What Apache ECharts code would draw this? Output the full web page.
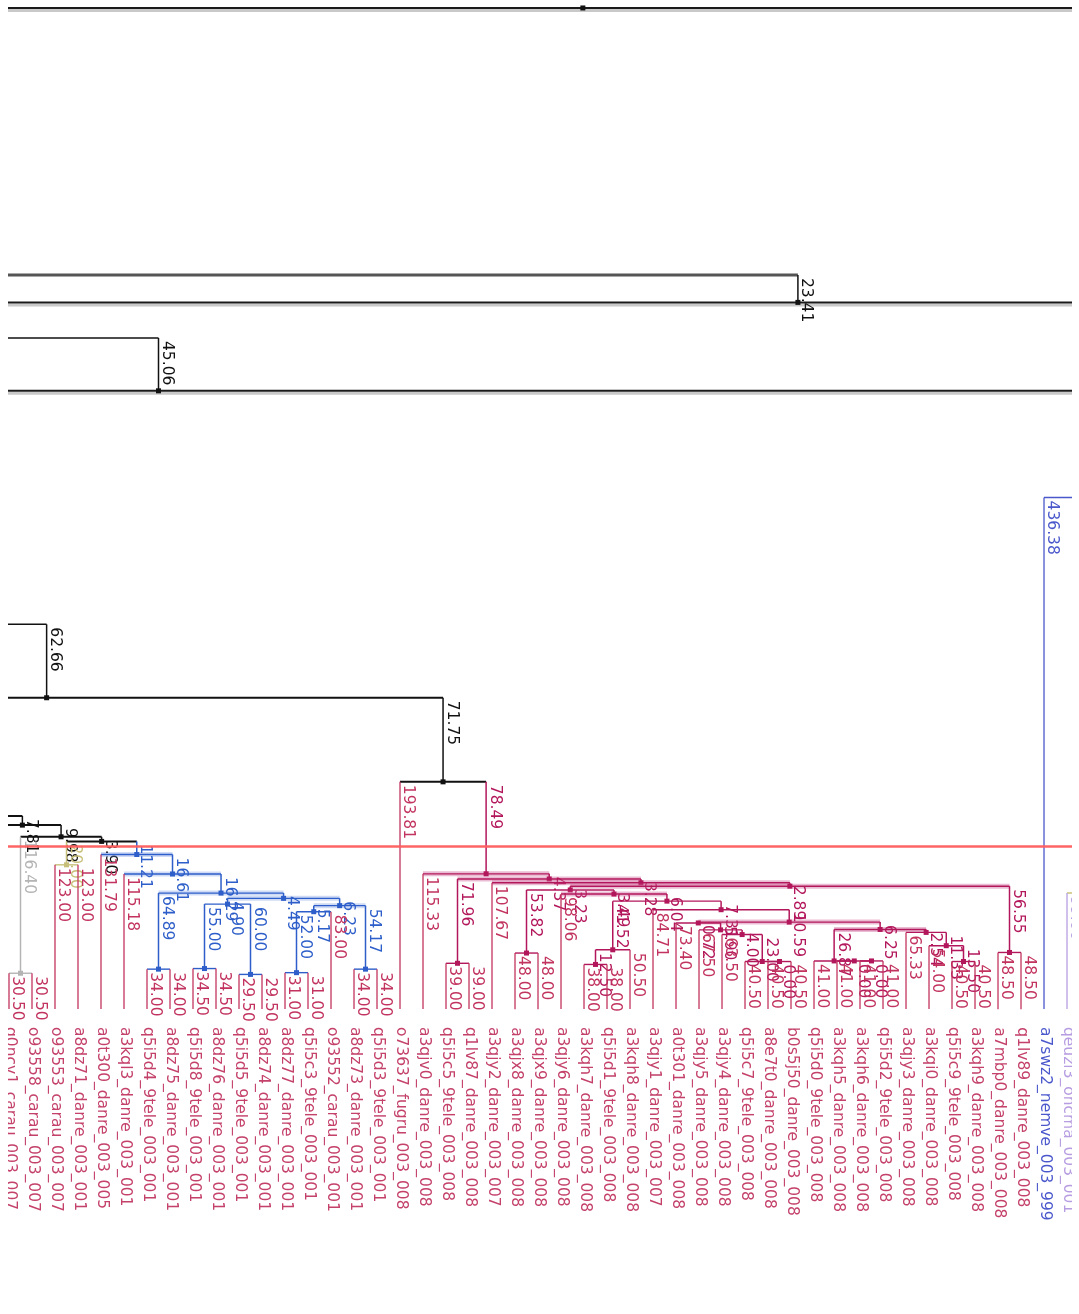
<!DOCTYPE html>
<html>
<head>
<meta charset="utf-8">
<script src="https://cdn.jsdelivr.net/npm/echarts@6/dist/echarts.min.js"></script>
<style>
  html, body { margin: 0; padding: 0; background: #ffffff; }
  #chart { width: 1079px; height: 1314px; }
</style>
</head>
<body>
<div id="chart"></div>
<script>
// ---------------- tree data ----------------
// Leaves in display order (slot = index), their parent node, terminal branch length, group
const leafNames = [
  'q0ncv1_carau_003_007', 'o93558_carau_003_007', 'o93553_carau_003_007', 'a8dz71_danre_003_001',
  'a0t300_danre_003_005', 'a3kql3_danre_003_001', 'q5i5d4_9tele_003_001', 'a8dz75_danre_003_001',
  'q5i5d8_9tele_003_001', 'a8dz76_danre_003_001', 'q5i5d5_9tele_003_001', 'a8dz74_danre_003_001',
  'a8dz77_danre_003_001', 'q5i5c3_9tele_003_001', 'o93552_carau_003_001', 'a8dz73_danre_003_001',
  'q5i5d3_9tele_003_001', 'o73637_fugru_003_008', 'a3qjv0_danre_003_008', 'q5i5c5_9tele_003_008',
  'q1lv87_danre_003_008', 'a3qjy2_danre_003_007', 'a3qjx8_danre_003_008', 'a3qjx9_danre_003_008',
  'a3qjy6_danre_003_008', 'a3kqh7_danre_003_008', 'q5i5d1_9tele_003_008', 'a3kqh8_danre_003_008',
  'a3qjy1_danre_003_007', 'a0t301_danre_003_008', 'a3qjy5_danre_003_008', 'a3qjy4_danre_003_008',
  'q5i5c7_9tele_003_008', 'a8e7t0_danre_003_008', 'b0s5j50_danre_003_008', 'q5i5d0_9tele_003_008',
  'a3kqh5_danre_003_008', 'a3kqh6_danre_003_008', 'q5i5d2_9tele_003_008', 'a3qjy3_danre_003_008',
  'a3kqi0_danre_003_008', 'q5i5c9_9tele_003_008', 'a3kqh9_danre_003_008', 'a7mbp0_danre_003_008',
  'q1lv89_danre_003_008', 'a7swz2_nemve_003_999', 'qeuzi3_oncma_003_001'
];
const leafParent = [
  'gr', 'gr', 'kh', 'kh', 'BN0', 'K', 'M', 'M', 'U', 'U', 'V', 'V', 'S', 'S', 'R', 'Q', 'Q',
  'H', 'I', 'n1', 'n1', 'AA', 'BB', 'BB', 'm4', 'm6', 'm6', 'm5', 'c', 'e', 'f', 'g',
  'h1', 'h2', 'h2', 'k1', 'k2', 'k3', 'k3', 'm', 'm2', 'm3', 'm3', 'n4344', 'n4344', 'E', 'Q46'
];
const leafLength = [
  30.50, 30.50, 123.00, 123.00, 131.79, 115.18, 34.00, 34.00, 34.50, 34.50, 29.50, 29.50,
  31.00, 31.00, 83.00, 34.00, 34.00, 193.81, 115.33, 39.00, 39.00, 107.67, 48.00, 48.00,
  98.06, 38.00, 38.00, 50.50, 84.71, 73.40, 67.50, 63.50, 40.50, 40.50, 40.50, 41.00,
  41.00, 41.00, 41.00, 65.33, 54.00, 40.50, 40.50, 48.50, 48.50, 436.38, 99.00
];
const leafGroup = [
  'r','r','r','r','r','r','r','r','r','r','r','r','r','r','r','r','r','r','r','r','r','r','r','r',
  'r','r','r','r','r','r','r','r','r','r','r','r','r','r','r','r','r','r','r','r','r','v','l'
];

// Internal nodes: id, parent, branch length, group
const nodeIds = [
  'A', 'Bp', 'B', 'C', 'D', 'E', 'F', 'G', 'H', 'Z', 'Y', 'X', 'W', 'gr', 'kh',
  'BN0', 'K', 'L', 'M', 'N', 'T', 'U', 'V', 'P', 'R', 'S', 'Q',
  'I', 'J', 'n1', 'AA', 'X1', 'CC', 'BB', 'm4', 'b', 'm5', 'm6', 'c', 'd', 'e', 'f', 'g',
  'h1', 'h2', 'e2', 'k1', 'k2', 'k3', 'm', 'm2', 'm3', 'n4344', 'Q46'
];
const nodeParent = [
  null, null, 'Bp', null, 'C', null, null, 'F', 'G', null, 'Z', 'Y', 'X', 'X', 'W',
  'W', 'BN0', 'K', 'L', 'L', 'N', 'T', 'T', 'N', 'P', 'R', 'P',
  'H', 'I', 'J', 'J', 'AA', 'X1', 'CC', 'CC', 'm4', 'b', 'm5', 'b', 'c', 'd', 'e', 'f',
  'g', 'h1', 'd', 'e2', 'k1', 'k2', 'e2', 'm', 'm2', 'X1', null
];
const nodeLength = [
  null, null, 23.41, null, 45.06, null, null, 62.66, 71.75, null, 7.81, 9.98, 3.90, 116.40, 20.00,
  11.21, 16.61, 16.29, 64.89, 4.49, 4.90, 55.00, 60.00, 6.23, 5.17, 52.00, 54.17,
  78.49, 4.37, 71.96, 3.28, 2.89, 3.23, 53.82, 3.49, 6.04, 41.52, 12.50, 7.31, 10.59, 0.72, 5.90, 4.00,
  23.00, 0.00, 6.25, 26.87, 0.00, 0.00, 2.54, 11.33, 13.50, 56.55, null
];
const nodeGroup = [
  'k','k','k','k','k','v','k','k','k','k','k','k','k','g','y',
  'b','b','b','b','b','b','b','b','b','b','b','b',
  'p','p','p','p','p','p','p','p','p','p','p','p','p','p','p','p',
  'p','p','p','p','p','p','p','p','p','p','y'
];

// Nodes whose parent lies above the displayed window, with their height
const anchorIds = ['A', 'Bp', 'C', 'E', 'F', 'Z', 'Q46'];
const anchorHeights = [854.1, 626.3, 572.5, 436.38, 328.22, 164.69, 99.0];

// Subtrees that continue outside the window: parent node and leaf slot
const outerParent = ['A', 'A', 'Bp', 'B', 'B', 'C', 'D', 'D', 'E', 'F', 'G', 'Z', 'Y', 'Q46'];
const outerSlot = [-40, 89.9, -60, -40, 108.6, -20, -40, 53, 60, -30, -15.6, -20, -1.1, 52];

// Cut height drawn as a horizontal rule
const cutHeight = 139.1;

// ---------------- styling ----------------
const palette = {
  k: '#111111', p: '#b3175b', b: '#2d5ec9', g: '#b4b4b4', y: '#c8c07a',
  v: '#4b58cc', l: '#b79de2', r: '#c2345f'
};
const bandColor = { p: 'rgba(205,95,150,0.42)', b: 'rgba(95,135,220,0.30)' };
const bandNodes = new Set(['I', 'J', 'AA', 'X1', 'm4', 'd', 'e2', 'BN0', 'K', 'L', 'N', 'P']);
const shadowNodes = new Set(['A', 'B', 'D']);
const heavyNodes = new Set(['Bp']);
const boldNodes = new Set(['Z', 'Y', 'X', 'W', 'G', 'H']);
const FONT = '15.5px "DejaVu Sans"';

// ---------------- layout ----------------
const kids = {};
function addKid(p, k) { (kids[p] = kids[p] || []).push(k); }
leafParent.forEach((p, i) => addKid(p, { leaf: i }));
nodeParent.forEach((p, i) => { if (p) addKid(p, { node: nodeIds[i] }); });
outerParent.forEach((p, i) => addKid(p, { outer: i }));

const slotOf = {};
function kidSlot(k) {
  if (k.leaf != null) return k.leaf;
  if (k.outer != null) return outerSlot[k.outer];
  return slotOf[k.node] != null ? slotOf[k.node] : nodeSlot(k.node);
}
function nodeSlot(id) {
  const s = kids[id].map(kidSlot);
  slotOf[id] = (Math.min(...s) + Math.max(...s)) / 2;
  return slotOf[id];
}
nodeIds.forEach(nodeSlot);

const hOf = {};
function height(id) {
  if (hOf[id] != null) return hOf[id];
  const a = anchorIds.indexOf(id);
  if (a >= 0) return (hOf[id] = anchorHeights[a]);
  const i = nodeIds.indexOf(id);
  return (hOf[id] = height(nodeParent[i]) - nodeLength[i]);
}
nodeIds.forEach(height);

const items = [];
nodeIds.forEach((id, i) => {
  const s = kids[id].map(kidSlot);
  items.push({
    id, group: nodeGroup[i], slot: slotOf[id], h: hOf[id],
    parentH: nodeParent[i] ? hOf[nodeParent[i]] : null,
    len: nodeLength[i], kidMin: Math.min(...s), kidMax: Math.max(...s)
  });
});
leafNames.forEach((name, i) => {
  const ph = hOf[leafParent[i]];
  items.push({
    id: name, group: leafGroup[i], slot: i, h: ph - leafLength[i], parentH: ph,
    len: leafLength[i], leaf: true
  });
});

// ---------------- drawing ----------------
function seg(a, b, stroke, w, extra) {
  return Object.assign({
    type: 'line',
    shape: { x1: a[0], y1: a[1], x2: b[0], y2: b[1] },
    style: { stroke, lineWidth: w, lineCap: 'butt' }
  }, extra || {});
}
function vtext(x, y, text, fill) {
  return {
    type: 'text', x, y, rotation: -Math.PI / 2,
    style: { text, fill, font: FONT, align: 'left', verticalAlign: 'middle' }
  };
}

function renderItem(params, api) {
  const it = items[params.dataIndex];
  const col = palette[it.group];
  const out = [];
  const P = (s, h) => api.coord([s, h]);
  if (!it.leaf) {
    const a = P(it.kidMin, it.h), b = P(it.kidMax, it.h);
    if (bandNodes.has(it.id)) out.push(seg(a, b, bandColor[it.group], 5));
    if (shadowNodes.has(it.id)) {
      out.push(seg([a[0], a[1] + 2.5], [b[0], b[1] + 2.5], '#c9c9c9', 3));
      out.push(seg(a, b, '#1a1a1a', 2));
    } else if (heavyNodes.has(it.id)) {
      out.push(seg(a, b, '#555555', 3));
    } else {
      out.push(seg(a, b, col, boldNodes.has(it.id) ? 2 : 1.4));
    }
  }
  if (it.parentH != null) {
    const top = P(it.slot, it.parentH), bot = P(it.slot, it.h);
    out.push(seg(top, bot, col, it.leaf ? 1.3 : 1.5));
    out.push(vtext(top[0] + 8.5, top[1] + 3, it.len.toFixed(2), col));
  }
  if (!it.leaf) {
    const c = P(it.slot, it.h);
    out.push({ type: 'rect', shape: { x: c[0] - 2.5, y: c[1] - 2.5, width: 5, height: 5 },
      style: { fill: col } });
  } else {
    const c = P(it.slot, it.h);
    const nameCol = it.group === 'r' ? '#c4416a' : col;
    out.push(vtext(c[0] + 1, c[1] + 18, it.id, nameCol));
  }
  return { type: 'group', children: out };
}

const chart = echarts.init(document.getElementById('chart'), null, { renderer: 'canvas' });
chart.setOption({
  animation: false,
  backgroundColor: '#ffffff',
  grid: { left: 8, right: 7, top: 0, bottom: 14 },
  xAxis: { type: 'value', min: -0.0435, max: 46.217, show: false },
  yAxis: { type: 'value', min: -248.3, max: 860.9, show: false },
  series: [
    {
      type: 'line', data: [], silent: true,
      markLine: {
        silent: true, symbol: 'none', label: { show: false },
        lineStyle: { color: '#ff5d5d', width: 2.5, type: 'solid', opacity: 0.95 },
        data: [{ yAxis: cutHeight }]
      }
    },
    {
      type: 'custom', clip: true, silent: true,
      renderItem,
      data: items.map(it => [it.slot, it.h])
    }
  ]
});
</script>
</body>
</html>
